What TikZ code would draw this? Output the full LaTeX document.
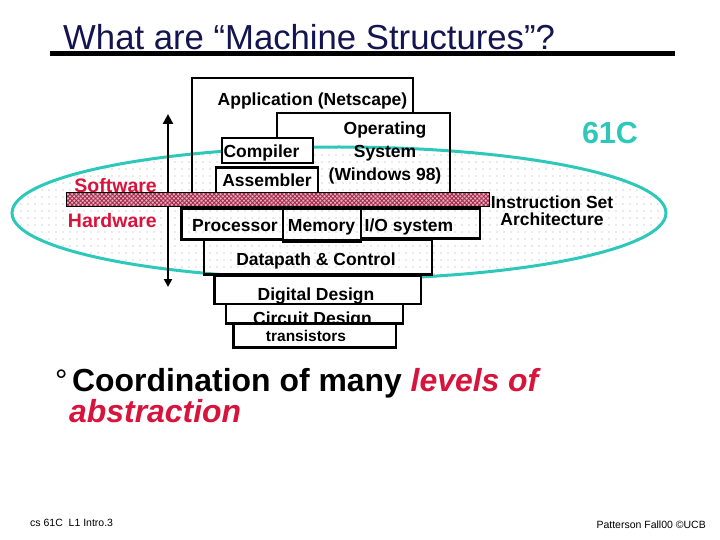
\documentclass[tikz,border=0pt]{standalone}
\usepackage{fontspec}
\setmainfont{Liberation Sans}
\usetikzlibrary{arrows.meta,patterns.meta}
\definecolor{titleblue}{RGB}{20,20,80}
\definecolor{isateal}{RGB}{45,200,185}
\definecolor{swred}{RGB}{215,20,60}
\definecolor{barpink}{RGB}{230,175,190}
\definecolor{barred}{RGB}{165,40,75}
\newcommand{\lblfont}{\bfseries\fontsize{17.5}{23}\selectfont}
\tikzset{
  layer/.style     ={draw, line width=2.4pt, inner sep=0pt},
  whitelayer/.style={layer, fill=white},
  lbl/.style       ={inner sep=0pt, anchor=base, font=\lblfont},
  side/.style      ={inner sep=0pt, anchor=base east, text=swred,
                     font=\bfseries\fontsize{19.5}{22}\selectfont},
  isabar/.style    ={draw, line width=1pt, inner sep=0pt,
                     preaction={fill=barpink},
                     pattern={Hatch[distance=3pt, angle=45, line width=0.9pt]},
                     pattern color=barred},
  updown/.style    ={{Triangle[length=10pt,width=10pt]}-{Triangle[length=8pt,width=8pt]},
                     line width=2.5pt},
  bullet/.style    ={inner sep=0pt, anchor=base west, font=\bfseries\fontsize{31.9}{28}\selectfont},
  foot/.style      ={inner sep=0pt, font=\fontsize{10.5}{12}\selectfont}
}
\begin{document}
\begin{tikzpicture}[x=1pt,y=-1pt]
  \useasboundingbox (0,0) rectangle (720,540);
  % title
  \node[anchor=base west, inner sep=0pt, text=titleblue, font=\fontsize{34.7}{40}\selectfont]
    (title) at (63,50) {What are “Machine Structures”?};
  \fill (50,51) rectangle (675,56);

  % ISA ellipse
  \draw[isateal, line width=3pt, pattern={Dots[distance=7pt, radius=0.55pt]}, pattern color=gray!70]
    (339,213) ellipse [x radius=327pt, y radius=66pt];
  \node[font=\bfseries\fontsize{30.5}{36}\selectfont, text=isateal, anchor=base, inner sep=0pt]
    (cs) at (610,143.3) {61C};

  % software / hardware arrow
  \coordinate (swtop) at (168,114);
  \coordinate (hwbot) at (168,287);
  \draw[updown] (swtop) -- (hwbot);
  \node[side] (sw) at (157,193) {Software};
  \node[side] (hw) at (157,227.5) {Hardware};

  % software layers
  \draw[line width=2.4pt] (192,196) -- (192,78) -- (413,78) -- (413,113);
  \node[lbl] (apptxt) at (312.5,106) {Application (Netscape)};
  \draw[line width=2.4pt] (276.7,139) -- (276.7,113) -- (450,113) -- (450,196);
  \node[lbl, align=center, anchor=center] (ostxt) at (385,152.5) {Operating\\System\\(Windows 98)};
  \node[whitelayer, minimum width=91pt, minimum height=25pt] (compbox) at (267.5,150.8) {};
  \node[lbl] (comptxt) at (261.5,157.3) {Compiler};
  \node[whitelayer, minimum width=102pt, minimum height=28.3pt] (asmbox) at (267,181.8) {};
  \node[lbl] (asmtxt) at (267,186.7) {Assembler};

  % instruction set architecture
  \node[isabar, minimum width=423pt, minimum height=14pt] (isa) at (277.5,200) {};
  \node[lbl, align=center, anchor=center, font=\bfseries\fontsize{17.5}{17.7}\selectfont]
    (isatxt) at (552,210.7) {Instruction Set\\Architecture};

  % hardware layers
  \node[layer, minimum width=101.5pt, minimum height=31pt] (cpubox) at (232.25,224) {};
  \node[lbl] (cputxt) at (235,231) {Processor};
  \node[layer, minimum width=78pt, minimum height=33pt] (membox) at (322,225) {};
  \node[lbl] (memtxt) at (321.5,231) {Memory};
  \node[layer, minimum width=119pt, minimum height=30pt] (iobox) at (420.5,223.5) {};
  \node[lbl] (iotxt) at (409,231) {I/O system};
  \node[layer, minimum width=228pt, minimum height=34.5pt] (dpbox) at (318,257.25) {};
  \node[lbl] (dptxt) at (316,265) {Datapath \& Control};
  \node[whitelayer, minimum width=206.4pt, minimum height=28.3pt] (ddbox) at (317.5,289.85) {};
  \node[lbl] (ddtxt) at (316,300) {Digital Design};
  \node[whitelayer, minimum width=177.3pt, minimum height=19.5pt] (cdbox) at (314.35,313.75) {};
  \node[lbl] (cdtxt) at (312.5,324.5) {Circuit Design};
  \node[whitelayer, minimum width=162.7pt, minimum height=24pt] (trbox) at (314.65,335.5) {};
  \node[lbl, font=\bfseries\fontsize{15.5}{18}\selectfont] (trtxt) at (306,341.7) {transistors};

  % bullet
  \node[bullet, font=\fontsize{31}{28}\selectfont] (dot) at (55,391) {°};
  \node[bullet] (bul1) at (72,391) {Coordination of many \textcolor{swred}{\itshape levels of}};
  \node[bullet] (bul2) at (69,422) {\textcolor{swred}{\itshape abstraction}};

  % footer
  \node[foot, anchor=base west] (foot1) at (30,526) {cs 61C\ \ L1 Intro.3};
  \node[foot, anchor=base east] (foot2) at (706,528) {Patterson Fall00 ©UCB};
\end{tikzpicture}
\end{document}
